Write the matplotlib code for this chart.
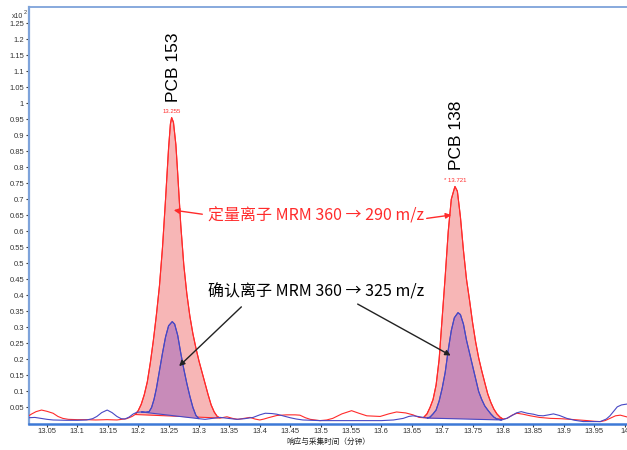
import numpy as np
import matplotlib
matplotlib.use("Agg")
import matplotlib.pyplot as plt
from matplotlib.ticker import FuncFormatter, MultipleLocator

# Quantifier ion trace, MRM 360 -> 290 (retention time in min, response x10^2)
red_time = [
    13.020, 13.025, 13.032, 13.041, 13.050, 13.060, 13.068, 13.076, 13.085, 13.100,
    13.115, 13.130, 13.149, 13.165, 13.181, 13.190, 13.195, 13.200, 13.205, 13.210,
    13.215, 13.220, 13.225, 13.230, 13.235, 13.240, 13.245, 13.250, 13.253, 13.255,
    13.258, 13.262, 13.265, 13.270, 13.275, 13.280, 13.285, 13.290, 13.295, 13.300,
    13.305, 13.310, 13.315, 13.320, 13.325, 13.330, 13.335, 13.346, 13.355, 13.364,
    13.374, 13.384, 13.392, 13.400, 13.407, 13.414, 13.428, 13.444, 13.458, 13.466,
    13.475, 13.483, 13.499, 13.510, 13.520, 13.535, 13.551, 13.563, 13.576, 13.598,
    13.612, 13.625, 13.640, 13.652, 13.662, 13.669, 13.675, 13.680, 13.685, 13.690,
    13.695, 13.700, 13.705, 13.710, 13.715, 13.721, 13.725, 13.730, 13.735, 13.740,
    13.745, 13.750, 13.755, 13.760, 13.765, 13.770, 13.775, 13.780, 13.785, 13.790,
    13.795, 13.800, 13.807, 13.815, 13.823, 13.833, 13.845, 13.860, 13.878, 13.895,
    13.911, 13.925, 13.939, 13.950, 13.960, 13.968, 13.976, 13.985, 13.993, 14.005,
]
red_value = [
    0.024, 0.030, 0.037, 0.042, 0.038, 0.032, 0.022, 0.016, 0.013, 0.012,
    0.012, 0.011, 0.012, 0.011, 0.015, 0.022, 0.028, 0.040, 0.060, 0.090,
    0.130, 0.190, 0.260, 0.340, 0.430, 0.550, 0.700, 0.860, 0.935, 0.955,
    0.940, 0.870, 0.780, 0.620, 0.495, 0.405, 0.335, 0.280, 0.235, 0.195,
    0.160, 0.125, 0.090, 0.058, 0.036, 0.022, 0.017, 0.021, 0.016, 0.013,
    0.016, 0.019, 0.014, 0.011, 0.014, 0.018, 0.025, 0.027, 0.027, 0.026,
    0.018, 0.013, 0.009, 0.011, 0.016, 0.030, 0.040, 0.032, 0.024, 0.022,
    0.030, 0.036, 0.033, 0.027, 0.019, 0.018, 0.030, 0.050, 0.075, 0.120,
    0.200, 0.330, 0.460, 0.600, 0.700, 0.740, 0.725, 0.645, 0.540, 0.450,
    0.385, 0.315, 0.255, 0.205, 0.165, 0.128, 0.092, 0.066, 0.045, 0.030,
    0.020, 0.014, 0.016, 0.026, 0.032, 0.029, 0.024, 0.019, 0.016, 0.015,
    0.013, 0.011, 0.009, 0.007, 0.006, 0.009, 0.016, 0.024, 0.026, 0.020,
]

# Qualifier ion trace, MRM 360 -> 325
blue_time = [
    13.020, 13.030, 13.040, 13.050, 13.060, 13.082, 13.100, 13.115, 13.125, 13.132,
    13.140, 13.149, 13.157, 13.165, 13.172, 13.178, 13.185, 13.192, 13.198, 13.205,
    13.212, 13.218, 13.222, 13.226, 13.230, 13.235, 13.240, 13.245, 13.250, 13.256,
    13.260, 13.265, 13.270, 13.275, 13.280, 13.285, 13.290, 13.295, 13.300, 13.310,
    13.322, 13.335, 13.348, 13.362, 13.375, 13.389, 13.400, 13.409, 13.420, 13.428,
    13.440, 13.450, 13.460, 13.471, 13.485, 13.499, 13.554, 13.600, 13.620, 13.636,
    13.645, 13.652, 13.660, 13.669, 13.675, 13.680, 13.685, 13.690, 13.695, 13.700,
    13.705, 13.710, 13.715, 13.720, 13.726, 13.730, 13.735, 13.740, 13.745, 13.750,
    13.755, 13.760, 13.765, 13.770, 13.775, 13.780, 13.785, 13.790, 13.798, 13.806,
    13.814, 13.822, 13.830, 13.840, 13.850, 13.858, 13.866, 13.875, 13.883, 13.893,
    13.905, 13.918, 13.932, 13.960, 13.970, 13.976, 13.982, 13.988, 13.995, 14.005,
]
blue_value = [
    0.018, 0.019, 0.016, 0.013, 0.011, 0.010, 0.010, 0.011, 0.015, 0.022,
    0.034, 0.042, 0.034, 0.022, 0.015, 0.014, 0.020, 0.030, 0.035, 0.036,
    0.035, 0.037, 0.050, 0.075, 0.110, 0.165, 0.220, 0.270, 0.305, 0.318,
    0.310, 0.275, 0.220, 0.170, 0.125, 0.085, 0.050, 0.025, 0.015, 0.013,
    0.016, 0.019, 0.016, 0.013, 0.015, 0.019, 0.027, 0.032, 0.031, 0.029,
    0.023, 0.018, 0.014, 0.011, 0.010, 0.009, 0.009, 0.009, 0.011, 0.016,
    0.022, 0.024, 0.022, 0.019, 0.017, 0.020, 0.030, 0.042, 0.070, 0.110,
    0.160, 0.230, 0.290, 0.330, 0.346, 0.340, 0.310, 0.260, 0.220, 0.180,
    0.140, 0.100, 0.075, 0.055, 0.042, 0.030, 0.020, 0.014, 0.011, 0.016,
    0.024, 0.033, 0.037, 0.032, 0.029, 0.025, 0.024, 0.027, 0.030, 0.025,
    0.016, 0.010, 0.006, 0.006, 0.014, 0.024, 0.038, 0.052, 0.058, 0.061,
]

# integration windows (start, end) per trace
red_windows = [(13.195, 13.335), (13.669, 13.800)]
blue_windows = [(13.205, 13.300), (13.675, 13.798)]

compounds = ["PCB 153", "PCB 138"]
apex_labels = ["13.255", "* 13.721"]
quant_label = "定量离子 MRM 360 → 290 m/z"
qual_label = "确认离子 MRM 360 → 325 m/z"
x_label = "响应与采集时间（分钟）"

RED = "#ff2b2b"
BLUE = "#4848c4"
CJK = ["Noto Sans CJK SC", "DejaVu Sans"]

plt.rcParams["font.family"] = ["Liberation Sans", "Noto Sans CJK SC", "DejaVu Sans"]

fig = plt.figure(figsize=(6.27, 4.5), dpi=100)
ax = fig.add_axes([29 / 627, 26.5 / 450, 598 / 627, 416.5 / 450])

rt = np.array(red_time)
rv = np.array(red_value)
bt = np.array(blue_time)
bv = np.array(blue_value)


def shade(t, v, windows, face, edge):
    # polygon closes from last to first point -> straight integration baseline
    for a, b in windows:
        m = (t >= a) & (t <= b)
        ax.fill(t[m], v[m], facecolor=face, edgecolor=edge, lw=0.8, zorder=2)


shade(rt, rv, red_windows, "#f7b6b6", RED)
shade(bt, bv, blue_windows, "#c88bb9", BLUE)
ax.plot(rt, rv, color=RED, lw=0.8, zorder=3)
ax.plot(bt, bv, color=BLUE, lw=0.8, zorder=3)

# compound names and apex retention times above the quantifier peaks
for (a, b), name, lab in zip(red_windows, compounds, apex_labels):
    m = (rt >= a) & (rt <= b)
    i = np.argmax(rv[m])
    pt, pv = rt[m][i], rv[m][i]
    ax.text(pt, pv + 0.012, lab, color=RED, fontsize=4.3, ha="center", va="bottom")
    ax.text(pt + 0.003, pv + 0.05, name, rotation=90, fontsize=12.5,
            ha="center", va="bottom", color="black")

# ion annotations with arrows
ax.text(13.315, 0.648, quant_label, color=RED, fontsize=11.5, family=CJK,
        ha="left", va="center")
ax.annotate("", xy=(13.254, 0.667), xytext=(13.310, 0.652),
            arrowprops=dict(arrowstyle="-|>", color=RED, lw=1.0, mutation_scale=8))
ax.annotate("", xy=(13.7195, 0.652), xytext=(13.670, 0.639),
            arrowprops=dict(arrowstyle="-|>", color=RED, lw=1.0, mutation_scale=8))

ax.text(13.315, 0.411, qual_label, color="black", fontsize=11.5, family=CJK,
        ha="left", va="center")
ax.annotate("", xy=(13.264, 0.173), xytext=(13.373, 0.370),
            arrowprops=dict(arrowstyle="-|>", color="#222222", lw=1.0, mutation_scale=8))
ax.annotate("", xy=(13.718, 0.208), xytext=(13.557, 0.377),
            arrowprops=dict(arrowstyle="-|>", color="#222222", lw=1.0, mutation_scale=8))

ax.set_xlim(13.0204, 14.004)
ax.set_ylim(0, 1.3)
ax.xaxis.set_major_locator(MultipleLocator(0.05))
ax.set_yticks(np.arange(1, 26) * 0.05)
ax.xaxis.set_major_formatter(FuncFormatter(lambda v, p: f"{round(v, 2):g}"))
ax.yaxis.set_major_formatter(FuncFormatter(lambda v, p: f"{round(v, 2):g}"))
ax.tick_params(labelsize=5.5, length=2.5, width=0.8, color="#333333",
               labelcolor="#333333", pad=1)

ax.set_xlabel(x_label, fontsize=5.5, family=["Noto Sans CJK SC"], labelpad=1.5,
              color="#222222")

ax.spines["right"].set_visible(False)
ax.spines["left"].set_color("#7ea3da")
ax.spines["left"].set_linewidth(1.6)
ax.spines["top"].set_color("#7ea3da")
ax.spines["top"].set_linewidth(1.3)
ax.spines["bottom"].set_color("#3d79d6")
ax.spines["bottom"].set_linewidth(1.8)

fig.text(12 / 627, 1 - 16 / 450, "x10", fontsize=5, color="#333333", va="center")
fig.text(23.5 / 627, 1 - 13 / 450, "2", fontsize=4, color="#333333", va="center")

fig.savefig("out.png", dpi=100)
